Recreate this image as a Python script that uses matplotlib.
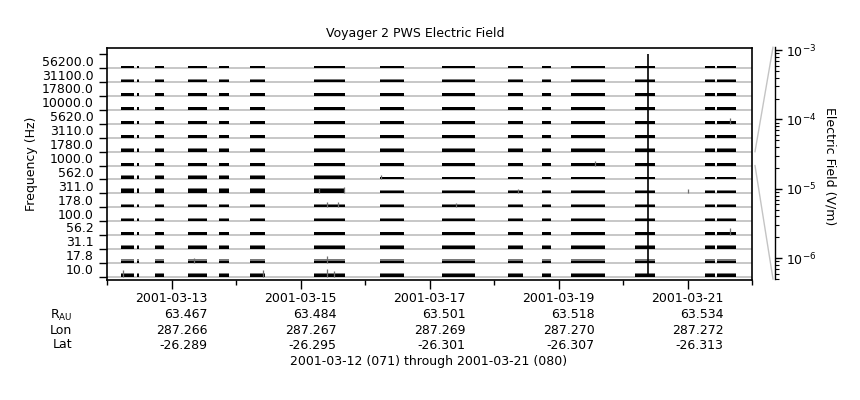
"""
Voyager 2 PWS electric field stack plot, 2001-03-12 .. 2001-03-21.
One band per spectrum-analyser channel; the 1000 Hz band is expanded
on the right-hand axis to show the V/m scale every band uses.
"""

import numpy as np
import matplotlib
matplotlib.use("Agg")
import matplotlib.pyplot as plt
from matplotlib.lines import Line2D
from matplotlib.ticker import FixedLocator, NullFormatter, LogLocator

# channel centre frequencies, bottom band first
FREQ_LABELS = ["10.0", "17.8", "31.1", "56.2", "100.0", "178.0", "311.0", "562.0",
               "1000.0", "1780.0", "3110.0", "5620.0", "10000.0", "17800.0",
               "31100.0", "56200.0"]

# data coverage, hours after 2001-03-12 00:00
SEG_START = [5.3, 11.2, 17.9, 30.0, 41.7, 53.2, 77.0, 101.6, 124.7, 149.2,
             162.0, 172.6, 196.5, 222.5, 227.1]
SEG_END = [10.0, 11.8, 21.2, 37.1, 45.4, 58.8, 88.6, 110.5, 136.9, 154.8,
           165.1, 185.3, 203.9, 226.2, 234.0]

# background field per channel (V/m), bottom band first
BASE_LEVEL = [3.1e-6, 1.8e-6, 2.2e-6, 2.2e-6, 2.2e-6, 1.5e-6, 1.7e-6, 1.8e-6,
              2.2e-6, 2.2e-6, 2.2e-6, 2.2e-6, 2.2e-6, 2.2e-6, 2.2e-6, 2.2e-6]
PEAK_LEVEL = [4.6e-6, 3.5e-6, 3.7e-6, 2.5e-6, 3.1e-6, 2.6e-6, 2.6e-6, 2.6e-6,
              2.3e-6, 3.1e-6, 2.4e-6, 2.4e-6, 2.3e-6, 2.4e-6, 2.4e-6, 2.3e-6]

# raised levels early in the interval: channel, first seg, last seg, base, peak
ACTIVE = [("311.0", 0, 6, 6.0e-6, 9.0e-6),
          ("562.0", 0, 6, 3.5e-6, 6.0e-6)]

# isolated spikes: hour, channel, peak (V/m)
SPIKES = [(5.8, "10.0", 2.8e-5), (58.2, "10.0", 2.0e-5), (82.0, "10.0", 3.0e-5),
          (84.5, "10.0", 1.2e-5), (81.9, "17.8", 2.5e-5), (32.5, "17.8", 8e-6),
          (81.9, "178.0", 9e-6), (86.0, "178.0", 8e-6), (88.0, "311.0", 1.6e-5),
          (79.0, "311.0", 1.2e-5), (101.8, "562.0", 6e-6), (181.6, "1000.0", 6e-6),
          (231.8, "5620.0", 1.1e-5), (231.8, "56.2", 2.2e-5), (130.0, "178.0", 7e-6),
          (153.0, "311.0", 6e-6), (216.0, "311.0", 5e-6)]

# broadband burst seen in every channel
BURST_HOUR = 201.2
BURST_LEVEL = 1.1e-3

DAY_TICKS = [24, 72, 120, 168, 216]
DAY_LABELS = ["2001-03-13", "2001-03-15", "2001-03-17", "2001-03-19", "2001-03-21"]
R_AU = ["63.467", "63.484", "63.501", "63.518", "63.534"]
LON = ["287.266", "287.267", "287.269", "287.270", "287.272"]
LAT = ["-26.289", "-26.295", "-26.301", "-26.307", "-26.313"]

EMIN, EMAX = 5.0e-7, 1.1e-3
SCALE_BAND = "1000.0"


def frac(v):
    f = (np.log10(v) - np.log10(EMIN)) / (np.log10(EMAX) - np.log10(EMIN))
    return float(np.clip(f, 0, 1))


plt.rcParams["font.family"] = "DejaVu Sans"
plt.rcParams["font.size"] = 9

fig = plt.figure(figsize=(8.6, 4.0), dpi=100, facecolor="white")
ax = fig.add_axes([107 / 860, 1 - 280 / 400, 645 / 860, 232 / 400])

n_ch = len(FREQ_LABELS)
starts = np.array(SEG_START)
widths = np.array(SEG_END) - starts

for j, lab in enumerate(FREQ_LABELS):
    ax.axhline(j, color="#BDBDBD", lw=1.2, zorder=1)
    base = [BASE_LEVEL[j]] * len(starts)
    peak = [PEAK_LEVEL[j]] * len(starts)
    for ch, s0, s1, b, p in ACTIVE:
        if ch == lab:
            for k in range(s0, s1 + 1):
                base[k], peak[k] = b, p
    ax.bar(starts, [frac(v) for v in peak], width=widths, bottom=j,
           align="edge", color="#7A7A7A", linewidth=0, zorder=2)
    ax.bar(starts, [frac(v) for v in base], width=widths, bottom=j,
           align="edge", color="black", linewidth=0, zorder=3)
    ax.vlines(BURST_HOUR, j, j + frac(BURST_LEVEL), color="black", lw=1.2, zorder=4)

for hr, ch, v in SPIKES:
    j = FREQ_LABELS.index(ch)
    ax.vlines(hr, j, j + frac(v), color="#6E6E6E", lw=0.9, zorder=4)

ax.set_xlim(0, 240)
ax.set_ylim(-0.23, 16.46)

# x axis: day ticks, ephemeris rows under the odd days
ax.xaxis.set_major_locator(FixedLocator(DAY_TICKS))
ax.xaxis.set_minor_locator(FixedLocator(np.arange(0, 241, 24)))
labels = [f"{d}\n{r}\n{lo}\n{la}" for d, r, lo, la in zip(DAY_LABELS, R_AU, LON, LAT)]
ax.set_xticklabels(labels, multialignment="right", linespacing=1.25)
ax.tick_params(axis="x", which="major", direction="out", length=6.5, width=1, pad=2.5)
ax.tick_params(axis="x", which="minor", direction="out", length=3.5, width=1)

# y axis: ticks on band edges, labels in the band middles
ax.yaxis.set_major_locator(FixedLocator(np.arange(0, n_ch + 1)))
ax.yaxis.set_major_formatter(NullFormatter())
ax.yaxis.set_minor_locator(FixedLocator(np.arange(n_ch) + 0.55))
ax.set_yticklabels(FREQ_LABELS, minor=True)
ax.tick_params(axis="y", which="major", direction="out", length=6, width=1)
ax.tick_params(axis="y", which="minor", length=0, pad=9.5)

for sp in ax.spines.values():
    sp.set_linewidth(1.2)

fig.text(415 / 860, 1 - 34 / 400, "Voyager 2 PWS Electric Field",
         ha="center", va="center", fontsize=9)
fig.text(31 / 860, 1 - 164 / 400, "Frequency (Hz)", rotation=90,
         ha="center", va="center")
fig.text(72 / 860, 1 - 315 / 400, r"R$_{\rm AU}$", ha="right", va="center")
fig.text(72 / 860, 1 - 330 / 400, "Lon", ha="right", va="center")
fig.text(72 / 860, 1 - 345 / 400, "Lat", ha="right", va="center")
fig.text(429 / 860, 1 - 361 / 400, "2001-03-12 (071) through 2001-03-21 (080)",
         ha="center", va="center")

# expanded scale for the 1000 Hz band
ax2 = fig.add_axes([775 / 860, 1 - 279 / 400, 0.0001, 231.7 / 400])
ax2.set_yscale("log")
ax2.set_ylim(EMIN, EMAX)
ax2.set_xticks([])
for name, sp in ax2.spines.items():
    sp.set_visible(name == "right")
ax2.spines["right"].set_linewidth(1.0)
ax2.yaxis.tick_right()
ax2.yaxis.set_major_locator(LogLocator(base=10))
ax2.yaxis.set_minor_locator(LogLocator(base=10, subs=np.arange(2, 10)))
ax2.yaxis.set_minor_formatter(NullFormatter())
ax2.tick_params(axis="y", which="major", direction="out", length=5, width=1, pad=3)
ax2.tick_params(axis="y", which="minor", direction="out", length=3, width=0.8)
fig.text(830 / 860, 1 - 166 / 400, "Electric Field (V/m)", rotation=270,
         ha="center", va="center")

# connector from the scale band to the expanded axis
jb = FREQ_LABELS.index(SCALE_BAND)
to_fig = fig.transFigure.inverted()
_, y_lo = to_fig.transform(ax.transData.transform((240, jb)))
_, y_hi = to_fig.transform(ax.transData.transform((240, jb + 1)))
x0, x1 = 755 / 860, 773 / 860
b2, t2 = 1 - 279 / 400, 1 - 47.3 / 400
fig.lines.append(Line2D([x0, x1], [y_hi, t2], transform=fig.transFigure,
                        color="#C4C4C4", lw=1.0))
fig.lines.append(Line2D([x0, x1], [y_lo, b2], transform=fig.transFigure,
                        color="#C4C4C4", lw=1.0))

fig.savefig("out.png", dpi=100, facecolor=fig.get_facecolor())
